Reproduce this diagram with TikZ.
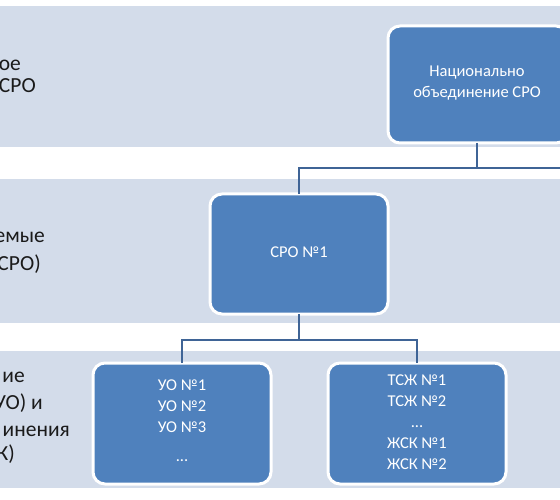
\documentclass[tikz,border=0pt]{standalone}
\usepackage{fontspec}
\setmainfont{Carlito}
\definecolor{bandc}{HTML}{D3DCEA}
\definecolor{boxc}{HTML}{4F81BD}
\definecolor{linec}{HTML}{3F6496}
\definecolor{labc}{HTML}{1A1A1A}
\tikzset{
  band/.style={fill=bandc, draw=none},
  orgbox/.style={fill=boxc, draw=white, line width=3pt, rounded corners=12pt},
  boxtext/.style={text=white, font=\fontsize{16.5}{21}\selectfont, align=center, inner sep=0pt},
  lab/.style={text=labc, font=\fontsize{21.5}{25}\selectfont, anchor=mid east, inner sep=0pt},
  conn/.style={draw=linec, line width=2.8pt},
}
\begin{document}
\begin{tikzpicture}[x=1pt,y=-1pt]
\useasboundingbox (0,0) rectangle (560,500);
\clip (0,0) rectangle (560,500);
% bands
\fill[band] (0,6) rectangle (560,147);
\fill[band] (0,179) rectangle (560,323);
\fill[band] (0,351) rectangle (560,488);
% left labels (cut off at the left edge)
\node[lab] (l1a) at (21,68) {ое};
\node[lab] (l1b) at (36,90) {СРО};
\node[lab] (l2a) at (45,240) {емые};
\node[lab] (l2b) at (41,268) {СРО)};
\node[lab] (l3a) at (25,380) {ие};
\node[lab] (l3b) at (43,407) {УО) и};
\node[lab] (l3c) at (70,434) {инения};
\node[lab] (l3d) at (15,458) {К)};
% boxes
\draw[orgbox] (388,26) rectangle (568,143);
\node[boxtext] (nat) at (477,83) {Национально\\объединение СРО};
\coordinate (natS) at (477,143);
\draw[orgbox] (210,194) rectangle (388,314);
\node[boxtext] (sro) at (299,252) {СРО №1};
\coordinate (sroN) at (299,194);
\coordinate (sroS) at (299,314);
\draw[orgbox] (93,363) rectangle (271,484);
\node[boxtext] (uo) at (182,421) {УО №1\\УО №2\\УО №3\\[8pt]...};
\coordinate (uoN) at (182,363);
\draw[orgbox] (328,363) rectangle (506,484);
\node[boxtext] (tsj) at (417,422) {ТСЖ №1\\ТСЖ №2\\...\\ЖСК №1\\ЖСК №2};
\coordinate (tsjN) at (417,363);
% connectors
\coordinate (right) at (562,168);
\draw[conn] (natS) -- (natS |- right);
\draw[conn] (right) -| (sroN);
\draw[conn] (sroS) -- (299,340) coordinate (mid);
\draw[conn] (uoN) |- (mid) -| (tsjN);
\end{tikzpicture}
\end{document}
